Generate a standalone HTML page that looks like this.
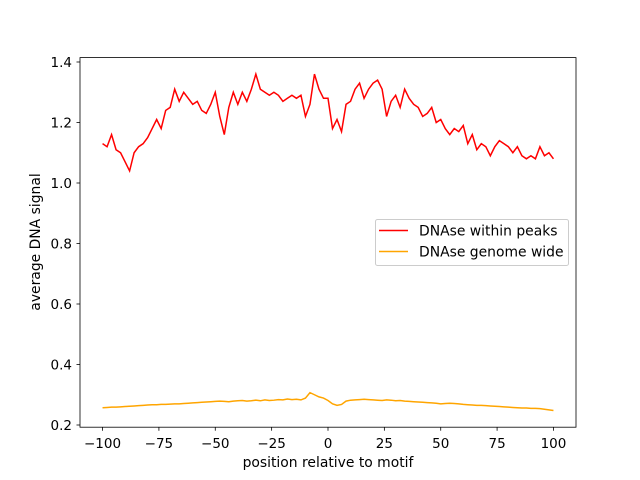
<!DOCTYPE html>
<html><head><meta charset="utf-8"><style>
body{margin:0;background:#fff}
svg{display:block;font-family:"DejaVu Sans","Liberation Sans",sans-serif}
</style></head><body>
<svg id="chart" width="640" height="480" xmlns="http://www.w3.org/2000/svg">
<rect width="640" height="480" fill="#fff"/>
<g id="marks"></g>
<rect x="80" y="57.6" width="496" height="369.6" fill="none" stroke="#000" stroke-width="0.8"/>
<g id="xt"></g><g id="yt"></g>
<text x="328" y="467" font-size="13.9" text-anchor="middle">position relative to motif</text>
<text transform="translate(40,242) rotate(-90)" font-size="13.9" text-anchor="middle">average DNA signal</text>
<g>
<rect x="375.5" y="219.5" width="193" height="46" rx="2" fill="#fff" fill-opacity="0.8" stroke="#ccc"/>
<line x1="379" y1="230.5" x2="408" y2="230.5" stroke="red" stroke-width="1.5"/>
<text x="419" y="235.5" font-size="13.9">DNAse within peaks</text>
<line x1="379" y1="251.5" x2="408" y2="251.5" stroke="orange" stroke-width="1.5"/>
<text x="419" y="256.5" font-size="13.9">DNAse genome wide</text>
</g>
</svg>
<script>
const xTicks=[-100,-75,-50,-25,0,25,50,75,100];
const yTicks=[0.2,0.4,0.6,0.8,1.0,1.2,1.4];
const yTickLabels=["0.2","0.4","0.6","0.8","1.0","1.2","1.4"];
const peaks=[1.13,1.12,1.16,1.11,1.10,1.07,1.04,1.10,1.12,1.13,1.15,1.18,1.21,1.18,1.24,1.25,1.31,1.27,1.30,1.28,1.26,1.27,1.24,1.23,1.26,1.30,1.22,1.16,1.25,1.30,1.26,1.30,1.27,1.31,1.36,1.31,1.30,1.29,1.30,1.29,1.27,1.28,1.29,1.28,1.29,1.22,1.26,1.36,1.31,1.28,1.28,1.18,1.21,1.17,1.26,1.27,1.31,1.33,1.28,1.31,1.33,1.34,1.31,1.22,1.27,1.29,1.25,1.31,1.28,1.26,1.25,1.22,1.23,1.25,1.20,1.21,1.18,1.16,1.18,1.17,1.19,1.13,1.16,1.11,1.13,1.12,1.09,1.12,1.14,1.13,1.12,1.10,1.12,1.09,1.08,1.09,1.08,1.12,1.09,1.10,1.08];
const genome=[0.257,0.258,0.259,0.259,0.260,0.261,0.262,0.263,0.264,0.265,0.266,0.267,0.267,0.268,0.268,0.269,0.270,0.270,0.271,0.272,0.273,0.274,0.275,0.276,0.277,0.278,0.279,0.278,0.277,0.279,0.280,0.281,0.279,0.280,0.282,0.280,0.283,0.281,0.282,0.284,0.283,0.286,0.284,0.285,0.283,0.289,0.307,0.300,0.293,0.289,0.281,0.270,0.265,0.268,0.279,0.282,0.283,0.284,0.285,0.284,0.283,0.282,0.281,0.283,0.282,0.280,0.281,0.279,0.278,0.277,0.276,0.275,0.274,0.273,0.272,0.270,0.271,0.272,0.271,0.270,0.268,0.267,0.266,0.265,0.265,0.264,0.263,0.262,0.261,0.260,0.259,0.258,0.257,0.256,0.256,0.255,0.255,0.254,0.252,0.250,0.248];
const NS="http://www.w3.org/2000/svg";
const xs=v=>80+(v+110)*496/220;
const ys=v=>425-(v-0.2)*302.5;
function line(vals,color,name){
  const n=vals.length;
  const pts=vals.map((v,i)=>xs(-100+200*i/(n-1)).toFixed(2)+","+ys(v).toFixed(2)).join(" ");
  const p=document.createElementNS(NS,"polyline");
  p.setAttribute("points",pts);p.setAttribute("fill","none");
  p.setAttribute("stroke",color);p.setAttribute("stroke-width","1.5");
  
  
  document.getElementById("marks").appendChild(p);
}
line(genome,"orange","series-genome-wide");
line(peaks,"red","series-within-peaks");
const xt=document.getElementById("xt");
xTicks.forEach(t=>{
  const x=xs(t);
  const l=document.createElementNS(NS,"line");
  l.setAttribute("x1",x);l.setAttribute("x2",x);l.setAttribute("y1",427.2);l.setAttribute("y2",430.7);l.setAttribute("stroke","#000");l.setAttribute("stroke-width","0.8");
  xt.appendChild(l);
  const s=document.createElementNS(NS,"text");
  s.setAttribute("x",x);s.setAttribute("y",448);s.setAttribute("font-size","13.5");s.setAttribute("text-anchor","middle");
  s.textContent=String(t).replace("-","\u2212");
  
  
  xt.appendChild(s);
});
const yt=document.getElementById("yt");
yTicks.forEach((t,i)=>{
  const y=ys(t);
  const l=document.createElementNS(NS,"line");
  l.setAttribute("x1",76.5);l.setAttribute("x2",80);l.setAttribute("y1",y);l.setAttribute("y2",y);l.setAttribute("stroke","#000");l.setAttribute("stroke-width","0.8");
  yt.appendChild(l);
  const s=document.createElementNS(NS,"text");
  s.setAttribute("x",72);s.setAttribute("y",y+4.8);s.setAttribute("font-size","13.5");s.setAttribute("text-anchor","end");
  s.textContent=yTickLabels[i];
  
  
  yt.appendChild(s);
});
</script>
</body></html>
